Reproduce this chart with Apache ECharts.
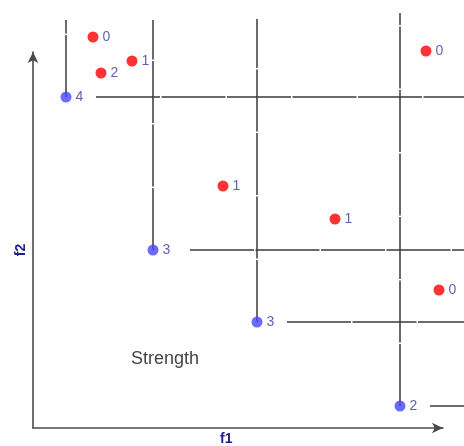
<!DOCTYPE html>
<html>
<head>
<meta charset="utf-8">
<script src="https://cdn.jsdelivr.net/npm/echarts@6/dist/echarts.min.js"></script>
<style>
  * { margin: 0; padding: 0; }
  body { background: #fff; }
</style>
</head>
<body>
<div id="main" style="width:464px;height:446px;"></div>
<script>
// skyline points (blue) with their counts, and dominated points (red)
var skyX = [33, 120, 224, 367];
var skyY = [331, 178, 106, 22];
var skyLabel = ['4', '3', '3', '2'];

var otherX = [60, 68, 99, 393, 190, 302, 406];
var otherY = [391, 355, 367, 377, 242, 209, 138];
var otherLabel = ['0', '2', '1', '0', '1', '1', '0'];

// how far the dominance lines run (top / right of the picture)
var lineTop = [408, 408, 409, 415];
var lineRight = 431;
var labelGap = [30, 37, 30, 30];

var chart = echarts.init(document.getElementById('main'));

function pts(xs, ys, labels) {
  return xs.map(function (x, i) { return [x, ys[i], labels[i]]; });
}

var pointLabel = {
  show: true,
  position: 'right',
  distance: 4,
  color: '#3a3a96',
  fontSize: 14,
  fontFamily: 'Liberation Sans, Arial',
  formatter: function (p) { return p.value[2]; }
};

var vLines = skyX.map(function (x, i) {
  return { coords: [[x, skyY[i]], [x, lineTop[i]]] };
});
var hLines = skyX.map(function (x, i) {
  return { coords: [[x + labelGap[i], skyY[i]], [lineRight, skyY[i]]] };
});

var series = [
  {
    type: 'lines',
    coordinateSystem: 'cartesian2d',
    clip: false,
    silent: true,
    lineStyle: { color: '#6a6a6a', width: 2, type: [62, 1.5], opacity: 1 },
    data: vLines
  },
  {
    type: 'lines',
    coordinateSystem: 'cartesian2d',
    clip: false,
    silent: true,
    lineStyle: { color: '#3a3a3a', width: 1.6, type: [64, 1.5], opacity: 1 },
    data: hLines
  },
  {
    type: 'scatter',
    clip: false,
    symbolSize: 11,
    itemStyle: { color: '#ff0000' },
    label: pointLabel,
    data: pts(otherX, otherY, otherLabel),
    z: 5
  },
  {
    type: 'scatter',
    clip: false,
    symbolSize: 11,
    itemStyle: { color: '#4646ff' },
    label: pointLabel,
    data: pts(skyX, skyY, skyLabel),
    z: 5
  }
];

var axisLine = {
  show: true,
  symbol: ['none', 'arrow'],
  symbolSize: [8, 11],
  lineStyle: { color: '#4a4a4a', width: 1.6 }
};

chart.setOption({
  animation: false,
  grid: { left: 33, top: 52, width: 410, height: 376 },
  xAxis: {
    type: 'value', min: 0, max: 410,
    axisLine: axisLine, axisTick: { show: false },
    axisLabel: { show: false }, splitLine: { show: false }
  },
  yAxis: {
    type: 'value', min: 0, max: 376,
    axisLine: axisLine, axisTick: { show: false },
    axisLabel: { show: false }, splitLine: { show: false }
  },
  graphic: [
    {
      type: 'text', left: 131, top: 350,
      style: { text: 'Strength', fill: '#444', fontSize: 18, fontFamily: 'Liberation Sans, Arial' }
    },
    {
      type: 'text', left: 220, top: 432,
      style: { text: 'f1', fill: '#22228c', fontSize: 14, fontWeight: 'bold', fontFamily: 'Liberation Sans, Arial' }
    },
    {
      type: 'text', x: 21, y: 250, rotation: Math.PI / 2,
      style: { text: 'f2', fill: '#22228c', fontSize: 14, fontWeight: 'bold', fontFamily: 'Liberation Sans, Arial', align: 'center', verticalAlign: 'middle' }
    }
  ],
  series: series
});
</script>
</body>
</html>
